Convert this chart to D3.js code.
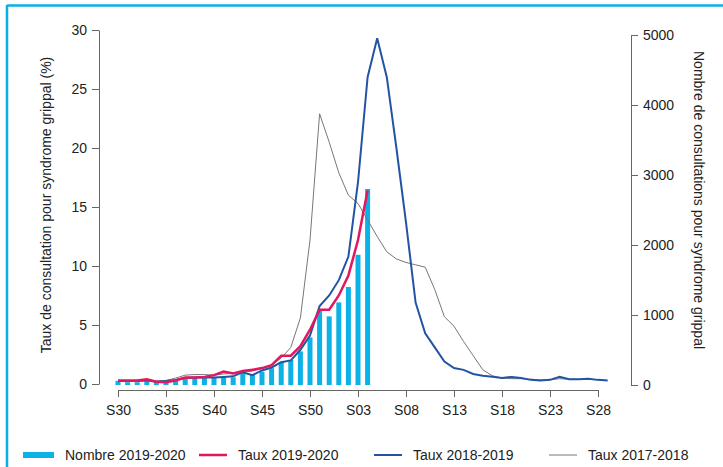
<!DOCTYPE html>
<html>
<head>
<meta charset="utf-8">
<script src="https://cdn.jsdelivr.net/npm/d3@7"></script>
<style>
  body { margin: 0; background: #fff; }
  text { font-family: "Liberation Sans", Arial, sans-serif; fill: #222; }
  .axis path, .axis line { stroke: #666; }
  .axis text { font-size: 14px; fill: #222; }
</style>
</head>
<body>
<div id="chart"></div>
<script>
var w = 723;
var h = 467;

// weeks S30 .. S52, S01 .. S29
var weeks = [];
for (var k = 30; k <= 52; k++) weeks.push("S" + k);
for (var k = 1; k <= 29; k++) weeks.push("S" + (k < 10 ? "0" + k : k));

// Nombre de consultations 2019-2020 (right axis)
var nombre2019 = [60, 40, 40, 50, 40, 40, 60, 100, 100, 100, 110, 110, 110, 170, 150, 190, 240, 330, 360, 480, 680, 1060, 980, 1180, 1400, 1860, 2800];

// Taux (%) (left axis)
var taux2019 = [0.3, 0.3, 0.3, 0.4, 0.2, 0.15, 0.3, 0.55, 0.55, 0.6, 0.75, 1.05, 0.9, 1.1, 1.2, 1.35, 1.6, 2.4, 2.4, 3.2, 4.6, 6.3, 6.3, 7.5, 9.2, 12.2, 16.4];

var taux2018 = [0.25, 0.25, 0.25, 0.3, 0.2, 0.25, 0.35, 0.5, 0.55, 0.55, 0.55, 0.6, 0.65, 1.0, 0.75, 1.15, 1.4, 1.85, 2.0, 2.9, 4.1, 6.6, 7.5, 8.8, 10.8, 17.1, 26.0, 29.3, 26.0, 20.0, 13.7, 6.9, 4.3, 3.1, 1.9, 1.35, 1.2, 0.85, 0.7, 0.62, 0.5, 0.6, 0.5, 0.35, 0.3, 0.35, 0.62, 0.4, 0.4, 0.45, 0.35, 0.3];

var taux2017 = [0.3, 0.3, 0.3, 0.35, 0.25, 0.3, 0.5, 0.75, 0.8, 0.8, 0.75, 0.85, 0.9, 1.0, 1.1, 1.3, 1.6, 2.2, 3.1, 5.6, 12.2, 22.9, 20.5, 17.9, 16.0, 15.3, 13.9, 12.5, 11.2, 10.6, 10.3, 10.1, 9.9, 8.0, 5.7, 4.9, 3.6, 2.4, 1.2, 0.7, 0.5, 0.45, 0.45, 0.4, 0.35, 0.35, 0.45, 0.4, 0.4, 0.4, 0.35, 0.3];

var tauxTicks = [0, 5, 10, 15, 20, 25, 30];
var nombreTicks = [0, 1000, 2000, 3000, 4000, 5000];
var weekTicks = [0, 5, 10, 15, 20, 25, 30, 35, 40, 45, 50];

var legendItems = [
	{ label: "Nombre 2019-2020", type: "bar", color: "#0cb2e6", x: 23 },
	{ label: "Taux 2019-2020", type: "line", color: "#e3175e", width: 2.5, x: 199 },
	{ label: "Taux 2018-2019", type: "line", color: "#2354a4", width: 2, x: 374 },
	{ label: "Taux 2017-2018", type: "line", color: "#777777", width: 1, x: 549 }
];

var svg = d3.select("#chart")
	.append("svg")
	.attr("width", w)
	.attr("height", h);

// frame (left and top edge)
svg.append("line").attr("x1", 7).attr("x2", 7).attr("y1", 5).attr("y2", h)
	.attr("stroke", "#0aafe6").attr("stroke-width", 2.5);
svg.append("line").attr("x1", 7).attr("x2", w).attr("y1", 5.5).attr("y2", 5.5)
	.attr("stroke", "#0aafe6").attr("stroke-width", 2.5);

var x = d3.scaleLinear().domain([0, 50]).range([118, 598]);
var yL = d3.scaleLinear().domain([0, 30]).range([384, 30]);
var yR = d3.scaleLinear().domain([0, 5000]).range([385, 35]);

// bars
svg.selectAll("rect.bar")
	.data(nombre2019)
	.enter()
	.append("rect")
	.attr("class", "bar")
	.attr("x", (d, i) => x(i) - 2.5)
	.attr("width", 5)
	.attr("y", d => yR(d))
	.attr("height", d => yR(0) - yR(d))
	.attr("fill", "#0cb2e6");

var line = d3.line()
	.x((d, i) => x(i))
	.y(d => yL(d));

svg.append("path").datum(taux2017)
	.attr("d", line).attr("fill", "none")
	.attr("stroke", "#777777").attr("stroke-width", 1);

svg.append("path").datum(taux2018)
	.attr("d", line).attr("fill", "none")
	.attr("stroke", "#2354a4").attr("stroke-width", 2);

svg.append("path").datum(taux2019)
	.attr("d", line).attr("fill", "none")
	.attr("stroke", "#e3175e").attr("stroke-width", 2.5);

// axes
svg.append("g")
	.attr("class", "axis")
	.attr("transform", "translate(99,0)")
	.call(d3.axisLeft(yL).tickValues(tauxTicks).tickSize(7).tickSizeOuter(0).tickPadding(5));

svg.append("g")
	.attr("class", "axis")
	.attr("transform", "translate(631,0)")
	.call(d3.axisRight(yR).tickValues(nombreTicks).tickFormat(d3.format("d")).tickSize(7).tickSizeOuter(0).tickPadding(5));

svg.append("g")
	.attr("class", "axis")
	.attr("transform", "translate(0,390)")
	.call(d3.axisBottom(x).tickValues(weekTicks).tickFormat(i => weeks[i]).tickSize(7).tickSizeOuter(0).tickPadding(8));

// axis titles
svg.append("text")
	.attr("transform", "translate(51,205) rotate(-90)")
	.attr("text-anchor", "middle")
	.style("font-size", "14px")
	.text("Taux de consultation pour syndrome grippal (%)");

svg.append("text")
	.attr("transform", "translate(694,200) rotate(90)")
	.attr("text-anchor", "middle")
	.style("font-size", "14px")
	.text("Nombre de consultations pour syndrome grippal");

// legend
var legend = svg.selectAll("g.legend")
	.data(legendItems)
	.enter()
	.append("g")
	.attr("class", "legend")
	.attr("transform", d => "translate(" + d.x + ",455)");

legend.filter(d => d.type == "bar")
	.append("rect")
	.attr("x", 0).attr("y", -3).attr("width", 31).attr("height", 6)
	.attr("fill", d => d.color);

legend.filter(d => d.type == "line")
	.append("line")
	.attr("x1", 0).attr("x2", 28).attr("y1", 0).attr("y2", 0)
	.attr("stroke", d => d.color)
	.attr("stroke-width", d => d.width);

legend.append("text")
	.attr("x", d => d.type == "bar" ? 42 : 39)
	.attr("y", 5)
	.style("font-size", "14px")
	.text(d => d.label);
</script>
</body>
</html>
